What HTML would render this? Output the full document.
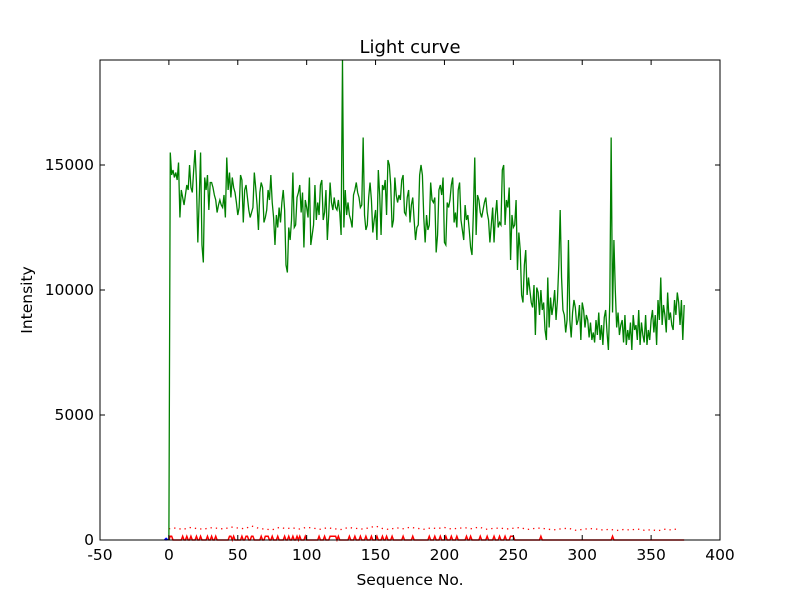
<!DOCTYPE html>
<html><head><meta charset="utf-8"><style>
body{margin:0;background:#fff;}
svg text{font-family:"DejaVu Sans","Liberation Sans",sans-serif;fill:#000;}
</style></head><body>
<svg id="chart" width="800" height="600" xmlns="http://www.w3.org/2000/svg">
<rect width="800" height="600" fill="#fff"/>
<g id="plot"></g>
<text x="410" y="53" font-size="18" text-anchor="middle">Light curve</text>
<text x="410" y="585" font-size="15.5" text-anchor="middle">Sequence No.</text>
<text x="32" y="300" font-size="15.5" text-anchor="middle" transform="rotate(-90 32 300)">Intensity</text>
</svg>
<script>
const xTicks=[-50,0,50,100,150,200,250,300,350,400];
const yTicks=[0,5000,10000,15000];
const unit=100;
const green=[0,155,146,148,145,147,144,151,129,140,137,134,138,142,140,150,141,139,148,156,143,119,136,155,118,
111,145,140,146,132,143,143,141,138,136,131,134,136,134,133,138,129,153,140,147,137,145,141,139,135,
130,133,146,144,127,140,142,137,132,129,131,133,147,141,134,124,139,143,141,127,129,132,140,136,146,
135,129,118,130,125,133,127,135,140,132,110,107,125,120,128,147,125,126,137,139,142,131,139,117,136,
133,129,145,118,122,126,142,128,135,130,142,144,128,131,140,120,130,143,135,132,137,133,132,136,131,
122,192,125,140,130,135,130,128,125,138,140,143,139,137,133,134,161,130,124,126,137,143,136,123,128,
132,120,148,138,122,142,140,144,130,152,150,142,125,128,145,138,135,138,136,144,146,131,130,137,140,
127,134,137,128,120,125,126,146,150,146,129,119,130,124,126,143,136,135,137,115,122,140,142,138,145,
119,118,135,133,136,142,145,127,131,125,140,143,128,124,120,134,128,130,124,117,114,131,153,122,138,
136,131,129,132,135,137,131,128,119,126,133,119,130,136,125,127,126,148,150,126,136,133,141,112,130,
125,126,136,108,123,116,98,95,110,116,98,105,100,95,93,102,82,101,99,90,100,92,95,84,80,
105,85,97,90,94,100,88,96,110,132,105,92,90,83,88,120,88,81,91,96,93,86,88,94,80,
95,92,85,90,88,81,87,80,83,79,88,82,91,80,86,78,89,92,83,76,95,161,91,120,100,
85,91,82,86,88,79,90,78,84,80,87,76,90,84,86,80,92,78,87,82,79,90,78,84,80,
88,92,83,90,78,96,88,105,86,94,90,83,99,88,91,86,84,96,90,99,95,86,96,80,94];
const redBumps=[1,2,10,13,16,20,23,28,31,34,44,45,47,53,56,57,60,61,67,70,71,72,75,79,84,87,90,93,95,99,109,113,117,118,119,120,121,123,131,135,139,143,147,151,155,158,162,170,177,189,193,197,201,205,209,216,219,226,231,236,240,244,248,249,250,270,322];
const redBumpVal=150;
const redDotted=[450,480,420,500,460,430,490,470,440,520,480,450,560,470,430,410,500,460,480,440,510,470,430,490,450,420,500,470,440,480,560,460,420,490,450,510,470,430,480,460,500,440,470,490,450,520,430,460,480,440,470,500,420,460,480,430,410,450,470,390,420,460,440,400,430,380,420,400,440,390,410,370,430,400,460];
const redDotStep=5;
const blueVals=[0,50,0];
const blueX=[-3,-2,-1];

const L=100,R=720,T=60,B=540,XMIN=-50,XMAX=400,YMAX=19200;
const sx=v=>L+(v-XMIN)*(R-L)/(XMAX-XMIN);
const sy=v=>B-v*(B-T)/YMAX;
const NS="http://www.w3.org/2000/svg";
const g=document.getElementById('plot');
function mk(tag,attrs){const e=document.createElementNS(NS,tag);for(const k in attrs)e.setAttribute(k,attrs[k]);g.appendChild(e);return e;}

let rs=[];
for(let i=0;i<green.length;i++){const v=redBumps.includes(i)?redBumpVal:0;rs.push(sx(i)+','+sy(v));}
const redLine=mk('polyline',{points:rs.join(' '),fill:'none',stroke:'#f00','stroke-width':1.5});


const rd=redDotted.map((v,i)=>sx(i*redDotStep)+','+sy(v)).join(' ');
const redDot=mk('polyline',{points:rd,fill:'none',stroke:'#f00','stroke-width':1.3,'stroke-dasharray':'1.3,4'});


const gp=green.map((v,i)=>sx(i)+','+sy(v*unit)).join(' ');
const gl=mk('polyline',{points:gp,fill:'none',stroke:'#008000','stroke-width':1.3});


const bl=mk('polyline',{points:blueVals.map((v,i)=>sx(blueX[i])+','+sy(v)).join(' '),fill:'none',stroke:'#00f','stroke-width':2});


const fr=mk('rect',{x:L,y:T,width:R-L,height:B-T,fill:'none',stroke:'#000','stroke-width':1});


xTicks.forEach(t=>{const x=sx(t);
 mk('line',{x1:x,x2:x,y1:B,y2:B-5,stroke:'#000'});mk('line',{x1:x,x2:x,y1:T,y2:T+5,stroke:'#000'});
 const tx=mk('text',{x:x,y:B+20,'font-size':15.5,'text-anchor':'middle'});tx.textContent=t;
 
 
});
yTicks.forEach(t=>{const y=sy(t);
 mk('line',{x1:L,x2:L+5,y1:y,y2:y,stroke:'#000'});mk('line',{x1:R,x2:R-5,y1:y,y2:y,stroke:'#000'});
 const tx=mk('text',{x:L-6,y:y+5,'font-size':15.5,'text-anchor':'end'});tx.textContent=t;
 
 
});
</script>
</body></html>
